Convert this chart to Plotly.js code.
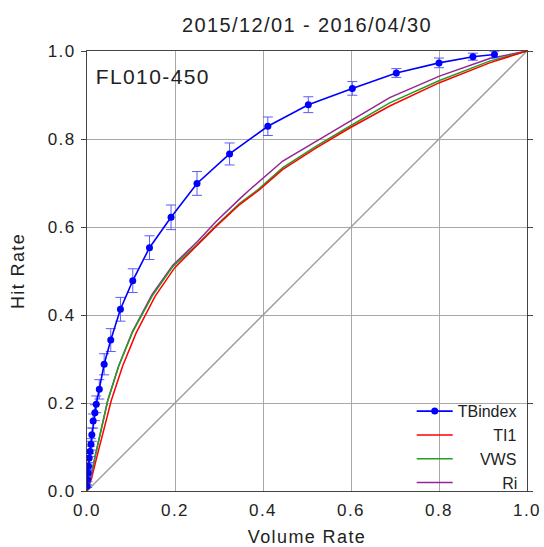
<!DOCTYPE html>
<html>
<head>
<meta charset="utf-8">
<script src="https://cdn.plot.ly/plotly-3.0.1.min.js"></script>
<style>
html, body { margin: 0; padding: 0; background: #fff; }
#chart { width: 544px; height: 547px; }
#chart svg text { letter-spacing: 1.4px; }
#chart svg .legend text { letter-spacing: 0px; }
</style>
</head>
<body>
<div id="chart"></div>
<script>
// ---- data ----
const titleText = "2015/12/01 - 2016/04/30";
const panelLabel = "FL010-450";
const xTitle = "Volume Rate";
const yTitle = "Hit Rate";
const tickVals = [0, 0.2, 0.4, 0.6, 0.8, 1.0];
const tickText = ["0.0", "0.2", "0.4", "0.6", "0.8", "1.0"];

const seriesNames = ["TBindex", "TI1", "VWS", "Ri"];

const tbX = [0.0004, 0.0012, 0.0025, 0.0035, 0.005, 0.007, 0.009, 0.011, 0.014, 0.018, 0.021, 0.028, 0.039, 0.054, 0.076, 0.104, 0.142, 0.191, 0.250, 0.324, 0.411, 0.503, 0.603, 0.703, 0.800, 0.877, 0.926];
const tbY = [0.011, 0.026, 0.041, 0.056, 0.075, 0.090, 0.106, 0.128, 0.159, 0.178, 0.197, 0.231, 0.288, 0.343, 0.413, 0.478, 0.553, 0.622, 0.699, 0.766, 0.829, 0.878, 0.915, 0.950, 0.973, 0.987, 0.992];
const tbErr = [0.003, 0.005, 0.006, 0.008, 0.010, 0.012, 0.013, 0.015, 0.016, 0.018, 0.019, 0.022, 0.024, 0.026, 0.027, 0.027, 0.027, 0.028, 0.027, 0.025, 0.021, 0.018, 0.0155, 0.010, 0.011, 0.008, 0.0076];

const ti1X = [0, 0.010, 0.021, 0.036, 0.055, 0.081, 0.112, 0.155, 0.199, 0.250, 0.294, 0.347, 0.390, 0.445, 0.521, 0.597, 0.688, 0.801, 0.915, 1.0];
const ti1Y = [0, 0.027, 0.072, 0.132, 0.205, 0.284, 0.360, 0.443, 0.507, 0.558, 0.602, 0.651, 0.683, 0.731, 0.780, 0.825, 0.875, 0.928, 0.973, 1.0];

const vwsX = [0, 0.008, 0.017, 0.030, 0.047, 0.072, 0.103, 0.148, 0.195, 0.250, 0.294, 0.347, 0.390, 0.445, 0.521, 0.597, 0.688, 0.801, 0.915, 1.0];
const vwsY = [0, 0.027, 0.072, 0.132, 0.205, 0.284, 0.360, 0.443, 0.510, 0.560, 0.604, 0.654, 0.686, 0.735, 0.784, 0.829, 0.882, 0.933, 0.977, 1.0];

const riX = [0, 0.008, 0.017, 0.030, 0.047, 0.072, 0.103, 0.148, 0.195, 0.250, 0.294, 0.347, 0.369, 0.445, 0.521, 0.597, 0.688, 0.801, 0.915, 1.0];
const riY = [0, 0.027, 0.072, 0.132, 0.205, 0.284, 0.362, 0.447, 0.513, 0.566, 0.613, 0.664, 0.684, 0.750, 0.795, 0.840, 0.894, 0.943, 0.983, 1.0];

const diagX = [0, 1];
const diagY = [0, 1];

// legend labels are right-aligned in the reference: pad with no-break spaces
const NB = "\u00a0";
const legendPad = [0, 8, 5, 10];
const legendName = (i) => NB.repeat(legendPad[i]) + seriesNames[i];

// ---- figure ----
const FONT = "Liberation Sans, Arial, sans-serif";

const traces = [
  { x: diagX, y: diagY, mode: "lines", line: { color: "#9a9a9a", width: 1.3 }, showlegend: false, hoverinfo: "skip" },
  { x: riX, y: riY, name: legendName(3), mode: "lines", line: { color: "#962496", width: 1.5 } },
  { x: vwsX, y: vwsY, name: legendName(2), mode: "lines", line: { color: "#22a022", width: 1.5 } },
  { x: ti1X, y: ti1Y, name: legendName(1), mode: "lines", line: { color: "#ff0000", width: 1.5 } },
  { x: tbX, y: tbY, name: legendName(0), mode: "lines+markers",
    line: { color: "#0000ff", width: 1.6 },
    marker: { color: "#0000ff", size: 7 },
    error_y: { type: "data", array: tbErr, visible: true, color: "#5a5aff", thickness: 1, width: 5 } }
];

const axisCommon = {
  range: [0, 1],
  tickvals: tickVals,
  ticktext: tickText,
  showgrid: true,
  gridcolor: "#a8a8a8",
  gridwidth: 1,
  zeroline: false,
  showline: true,
  linecolor: "#444",
  linewidth: 1,
  mirror: "ticks",
  tickfont: { family: FONT, size: 17, color: "#222" },
  fixedrange: true
};

const layout = {
  width: 544,
  height: 547,
  margin: { l: 87, r: 17, t: 51, b: 56 },
  paper_bgcolor: "#fff",
  plot_bgcolor: "#fff",
  font: { family: FONT, color: "#222" },
  title: { text: titleText, x: 0.5, xref: "paper", xanchor: "center", y: 0.955, yref: "container", yanchor: "middle",
           font: { family: FONT, size: 20, color: "#222" } },
  xaxis: Object.assign({}, axisCommon, {
    ticks: "", ticklabelstandoff: 4,
    title: { text: xTitle, font: { family: FONT, size: 18, color: "#222" }, standoff: 16 }
  }),
  yaxis: Object.assign({}, axisCommon, {
    ticks: "outside", ticklen: 5, tickcolor: "#444", ticklabelstandoff: 2,
    title: { text: yTitle, font: { family: FONT, size: 18, color: "#222" }, standoff: 22 }
  }),
  legend: {
    x: 0.738, y: 0.22, xanchor: "left", yanchor: "top",
    bgcolor: "rgba(0,0,0,0)", borderwidth: 0,
    traceorder: "reversed",
    itemwidth: 36,
    font: { family: FONT, size: 16, color: "#222" },
    tracegroupgap: 0
  },
  annotations: [
    { text: panelLabel, xref: "paper", yref: "paper", x: 0.03, y: 0.942, xanchor: "left", yanchor: "middle",
      showarrow: false, font: { family: FONT, size: 21, color: "#222" } }
  ],
  showlegend: true
};

Plotly.newPlot("chart", traces, layout, { staticPlot: true, displayModeBar: false });
</script>
</body>
</html>
